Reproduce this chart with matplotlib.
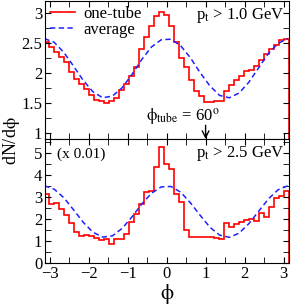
import numpy as np
import matplotlib
matplotlib.use('Agg')
import matplotlib.pyplot as plt
from matplotlib.ticker import MultipleLocator

# ---- data ----
n_bins = 49
phi_edges = np.linspace(-np.pi, np.pi, n_bins + 1)

# one-tube histogram, pt > 1.0 GeV
tube_lo = [2.52, 2.44, 2.36, 2.27, 2.19, 2.02, 1.91, 1.82, 1.74, 1.63,
           1.56, 1.53, 1.50, 1.54, 1.59, 1.72, 1.82, 1.96, 2.10, 2.41,
           2.60, 2.79, 2.95, 3.02, 2.97, 2.79, 2.53, 2.25, 2.10, 1.88,
           1.70, 1.62, 1.52, 1.52, 1.53, 1.54, 1.71, 1.80, 1.88, 1.96,
           2.04, 2.05, 2.13, 2.22, 2.33, 2.40, 2.47, 2.55, 2.58]

# one-tube histogram, pt > 2.5 GeV (x 0.01)
tube_hi = [3.12, 2.68, 2.71, 2.45, 2.16, 1.79, 1.41, 1.24, 1.28, 1.20,
           1.11, 1.04, 1.08, 0.86, 1.10, 1.07, 1.33, 1.85, 2.20, 2.69,
           3.21, 3.28, 4.34, 5.28, 4.50, 4.27, 3.14, 2.76, 1.51, 1.18,
           1.18, 1.19, 1.19, 1.17, 1.15, 1.08, 1.80, 1.65, 1.75, 1.84,
           1.95, 1.99, 1.90, 2.25, 2.10, 2.55, 2.93, 3.05, 3.28]

# average curves
phi_avg = [-3.14, -2.89, -2.64, -2.39, -2.14, -1.89, -1.64, -1.39, -1.14,
           -0.89, -0.64, -0.39, -0.14, 0.11, 0.36, 0.61, 0.86, 1.11, 1.36,
           1.61, 1.86, 2.11, 2.36, 2.61, 2.86, 3.11]
avg_lo = [2.58, 2.52, 2.35, 2.12, 1.88, 1.69, 1.59, 1.62, 1.76, 1.98,
          2.23, 2.44, 2.56, 2.57, 2.46, 2.26, 2.01, 1.79, 1.63, 1.59,
          1.67, 1.85, 2.09, 2.33, 2.50, 2.58]
avg_hi = [3.50, 3.35, 2.96, 2.41, 1.84, 1.39, 1.17, 1.23, 1.57, 2.09,
          2.67, 3.16, 3.45, 3.47, 3.21, 2.73, 2.16, 1.62, 1.26, 1.16,
          1.35, 1.78, 2.34, 2.90, 3.32, 3.50]

plt.rcParams['font.family'] = ['Liberation Serif', 'DejaVu Serif']
plt.rcParams['mathtext.fontset'] = 'stix'
plt.rcParams['font.size'] = 12

RED = '#ff0000'
BLUE = '#2020ff'
PHI = r'\mathrm{\phi}'

fig = plt.figure(figsize=(2.91, 3.05), dpi=100)
ax1 = fig.add_axes([0.155, 0.544, 0.838, 0.453])
ax2 = fig.add_axes([0.155, 0.138, 0.838, 0.406])

for ax, tube, avg in ((ax1, tube_lo, avg_lo), (ax2, tube_hi, avg_hi)):
    ax.stairs(tube, phi_edges, color=RED, lw=1.2, label='one-tube')
    ax.plot(phi_avg, avg, color=BLUE, lw=1.1, ls=(0, (3.5, 2.2)), label='average')
    ax.set_xlim(-3.12, 3.14)
    ax.tick_params(which='both', direction='in', top=True, right=True,
                   labelsize=12, pad=2)
    ax.tick_params(which='major', length=4)
    ax.tick_params(which='minor', length=4)
    ax.xaxis.set_major_locator(MultipleLocator(1))
    ax.xaxis.set_minor_locator(MultipleLocator(0.5))

ax1.set_ylim(0.9, 3.21)
ax1.yaxis.set_minor_locator(MultipleLocator(0.25))
ax1.set_yticks([1, 1.5, 2, 2.5, 3])
ax1.set_yticklabels(['1', '1.5', '2', '2.5', '3'])
ax1.tick_params(labelbottom=False)

ax2.set_ylim(0, 5.62)
ax2.yaxis.set_major_locator(MultipleLocator(1))
ax2.yaxis.set_minor_locator(MultipleLocator(0.5))

ax1.legend(loc='upper left', frameon=False, fontsize=12, handlelength=1.5,
           handletextpad=0.5, labelspacing=0.0, borderaxespad=0.1,
           borderpad=0.2)

ax1.text(0.98, 0.96, r'p$_{\rm t}$ > 1.0 GeV', transform=ax1.transAxes,
         ha='right', va='top', fontsize=12)
ax2.text(0.98, 0.96, r'p$_{\rm t}$ > 2.5 GeV', transform=ax2.transAxes,
         ha='right', va='top', fontsize=12)
ax2.text(0.05, 0.93, '(x 0.01)', transform=ax2.transAxes,
         ha='left', va='top', fontsize=11)

ax1.annotate('', xy=(1.0, 0.9), xytext=(1.0, 1.13),
             arrowprops=dict(arrowstyle='->', color='black', lw=1.0,
                             shrinkA=0, shrinkB=0))
ax1.text(0.42, 1.27, r'$%s_{\rm tube}$ = 60$^{\rm o}$' % PHI, ha='center',
         va='center', fontsize=12)

fig.text(0.04, 0.54, r'dN/d$%s$' % PHI, rotation=90, ha='center', va='center',
         fontsize=13)
ax2.set_xlabel(r'$%s$' % PHI, fontsize=15, labelpad=0)

fig.savefig('out.png', dpi=100)
